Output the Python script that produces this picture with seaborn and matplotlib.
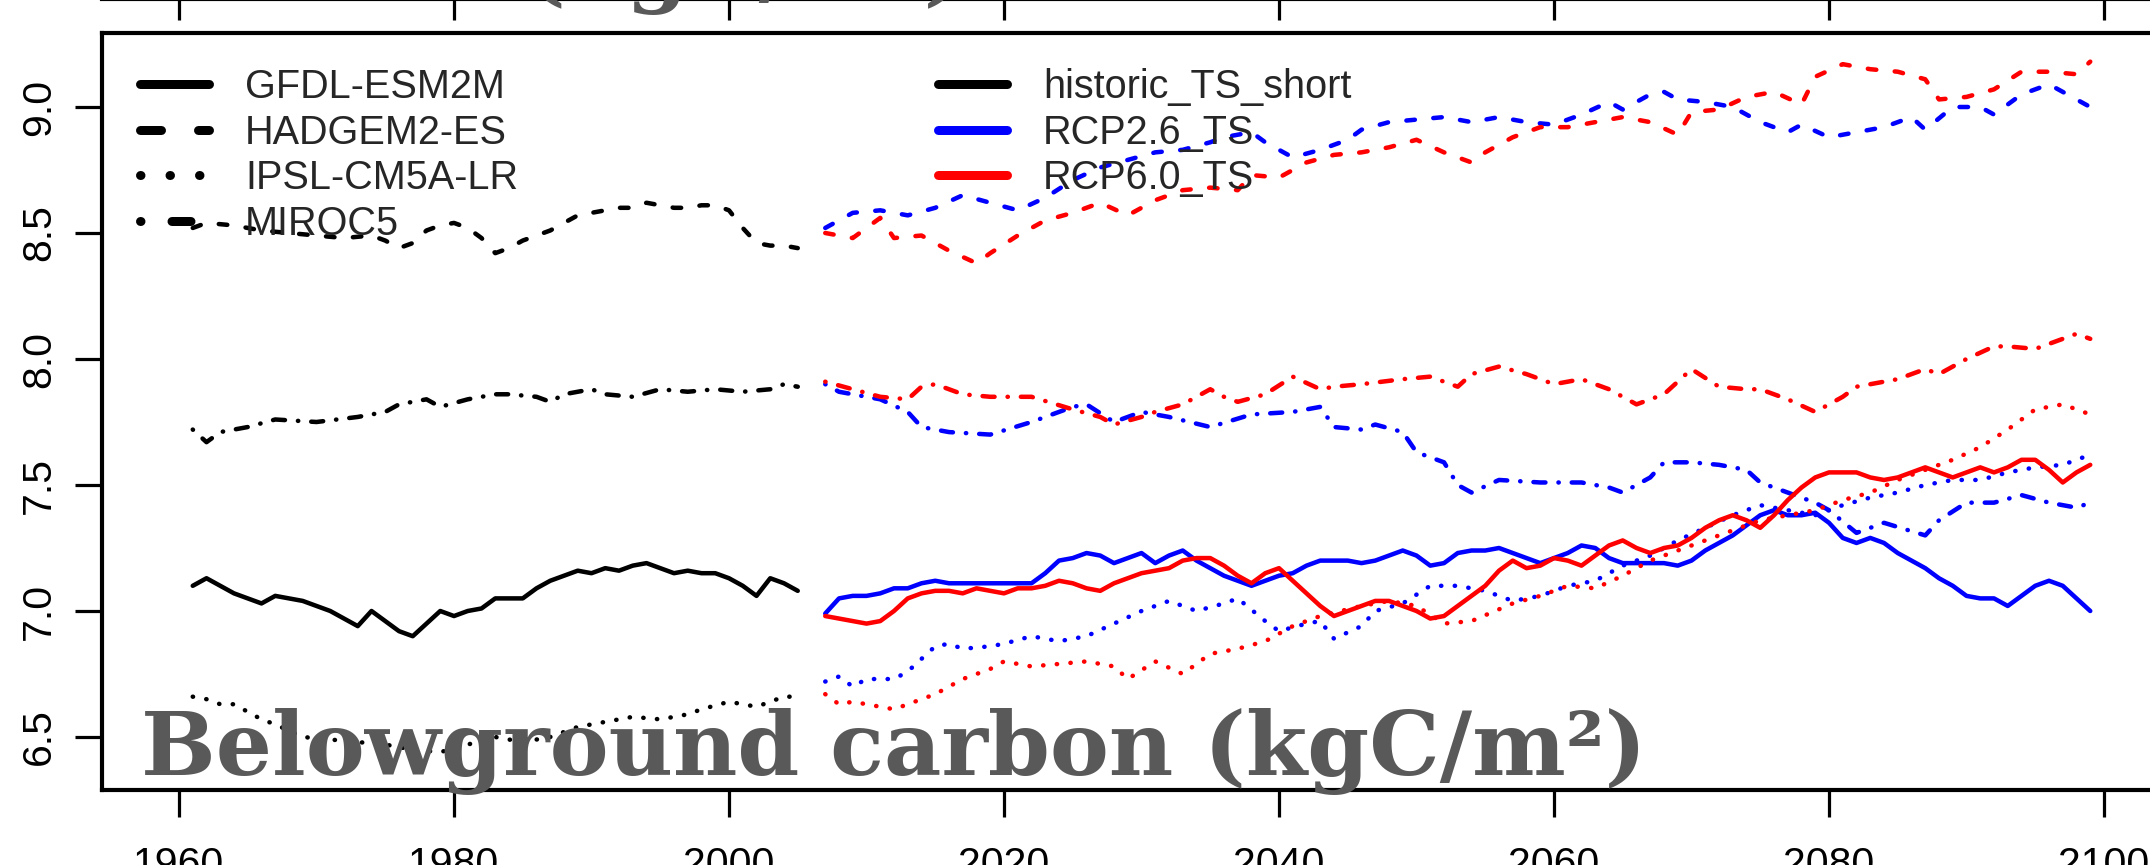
import numpy as np
import pandas as pd
import matplotlib
matplotlib.use("Agg")
import matplotlib.pyplot as plt
import seaborn as sns
from matplotlib.lines import Line2D

# ---------------- data ----------------
# GFDL-ESM2M (solid)
gfdl_hist_yr = list(range(1961, 2006))
gfdl_hist = [7.10, 7.13, 7.10, 7.07, 7.05, 7.03, 7.06, 7.05, 7.04, 7.02,
             7.00, 6.97, 6.94, 7.00, 6.96, 6.92, 6.90, 6.95, 7.00, 6.98,
             7.00, 7.01, 7.05, 7.05, 7.05, 7.09, 7.12, 7.14, 7.16, 7.15,
             7.17, 7.16, 7.18, 7.19, 7.17, 7.15, 7.16, 7.15, 7.15, 7.13,
             7.10, 7.06, 7.13, 7.11, 7.08]
gfdl_fut_yr = list(range(2007, 2100))
gfdl_rcp26 = [6.99, 7.05, 7.06, 7.06, 7.07, 7.09, 7.09, 7.11, 7.12, 7.11,
              7.11, 7.11, 7.11, 7.11, 7.11, 7.11, 7.15, 7.20, 7.21, 7.23,
              7.22, 7.19, 7.21, 7.23, 7.19, 7.22, 7.24, 7.20, 7.17, 7.14,
              7.12, 7.10, 7.12, 7.14, 7.15, 7.18, 7.20, 7.20, 7.20, 7.19,
              7.20, 7.22, 7.24, 7.22, 7.18, 7.19, 7.23, 7.24, 7.24, 7.25,
              7.23, 7.21, 7.19, 7.21, 7.23, 7.26, 7.25, 7.21, 7.19, 7.19,
              7.19, 7.19, 7.18, 7.20, 7.24, 7.27, 7.30, 7.34, 7.38, 7.40,
              7.38, 7.38, 7.39, 7.35, 7.29, 7.27, 7.29, 7.27, 7.23, 7.20,
              7.17, 7.13, 7.10, 7.06, 7.05, 7.05, 7.02, 7.06, 7.10, 7.12,
              7.10, 7.05, 7.00]
gfdl_rcp60 = [6.98, 6.97, 6.96, 6.95, 6.96, 7.00, 7.05, 7.07, 7.08, 7.08,
              7.07, 7.09, 7.08, 7.07, 7.09, 7.09, 7.10, 7.12, 7.11, 7.09,
              7.08, 7.11, 7.13, 7.15, 7.16, 7.17, 7.20, 7.21, 7.21, 7.18,
              7.14, 7.11, 7.15, 7.17, 7.12, 7.07, 7.02, 6.98, 7.00, 7.02,
              7.04, 7.04, 7.02, 7.00, 6.97, 6.98, 7.02, 7.06, 7.10, 7.16,
              7.20, 7.17, 7.18, 7.21, 7.20, 7.18, 7.22, 7.26, 7.28, 7.25,
              7.23, 7.25, 7.26, 7.29, 7.33, 7.36, 7.38, 7.36, 7.33, 7.38,
              7.44, 7.49, 7.53, 7.55, 7.55, 7.55, 7.53, 7.52, 7.53, 7.55,
              7.57, 7.55, 7.53, 7.55, 7.57, 7.55, 7.57, 7.60, 7.60, 7.56,
              7.51, 7.55, 7.58]

# HADGEM2-ES (dashed)
hadgem_hist_yr = [1961, 1962, 1964, 1966, 1968, 1970, 1972, 1974, 1975, 1976,
                  1977, 1978, 1979, 1980, 1981, 1982, 1983, 1984, 1985, 1986,
                  1987, 1988, 1989, 1990, 1991, 1992, 1993, 1994, 1995, 1996,
                  1997, 1998, 1999, 2000, 2001, 2002, 2003, 2004, 2005]
hadgem_hist = [8.52, 8.54, 8.53, 8.51, 8.50, 8.49, 8.48, 8.49, 8.47, 8.44,
               8.46, 8.51, 8.53, 8.54, 8.52, 8.48, 8.42, 8.44, 8.47, 8.49,
               8.51, 8.54, 8.57, 8.58, 8.59, 8.60, 8.60, 8.62, 8.61, 8.60,
               8.60, 8.61, 8.61, 8.59, 8.52, 8.46, 8.45, 8.45, 8.44]
hadgem_rcp26_yr = [2007, 2009, 2011, 2013, 2015, 2017, 2019, 2021, 2023, 2025,
                   2027, 2029, 2031, 2033, 2035, 2036, 2038, 2039, 2041, 2043,
                   2045, 2046, 2048, 2050, 2052, 2054, 2056, 2058, 2060, 2062,
                   2064, 2065, 2067, 2068, 2069, 2071, 2073, 2075, 2077, 2078,
                   2080, 2082, 2084, 2086, 2087, 2089, 2091, 2092, 2094, 2096,
                   2098, 2099]
hadgem_rcp26 = [8.52, 8.58, 8.59, 8.57, 8.60, 8.65, 8.62, 8.59, 8.64, 8.71,
                8.76, 8.79, 8.82, 8.83, 8.86, 8.88, 8.90, 8.86, 8.80, 8.83,
                8.87, 8.91, 8.94, 8.95, 8.96, 8.94, 8.96, 8.94, 8.93, 8.97,
                9.02, 8.99, 9.05, 9.06, 9.03, 9.02, 9.00, 8.94, 8.90, 8.93,
                8.88, 8.90, 8.92, 8.96, 8.91, 9.00, 9.00, 8.97, 9.05, 9.09,
                9.03, 9.00]
hadgem_rcp60_yr = [2007, 2009, 2011, 2012, 2014, 2016, 2018, 2019, 2021, 2023,
                   2025, 2027, 2029, 2031, 2033, 2035, 2037, 2038, 2040, 2042,
                   2044, 2046, 2048, 2050, 2052, 2054, 2055, 2057, 2059, 2061,
                   2063, 2065, 2067, 2069, 2070, 2072, 2074, 2076, 2078, 2079,
                   2081, 2083, 2085, 2087, 2088, 2090, 2092, 2094, 2096, 2098,
                   2099]
hadgem_rcp60 = [8.50, 8.48, 8.56, 8.48, 8.49, 8.43, 8.38, 8.42, 8.49, 8.55,
                8.58, 8.62, 8.57, 8.63, 8.67, 8.68, 8.67, 8.73, 8.72, 8.78,
                8.81, 8.82, 8.84, 8.87, 8.82, 8.78, 8.82, 8.88, 8.92, 8.92,
                8.94, 8.96, 8.94, 8.89, 8.98, 8.99, 9.04, 9.06, 9.01, 9.12,
                9.17, 9.15, 9.14, 9.11, 9.03, 9.04, 9.07, 9.14, 9.14, 9.13,
                9.18]

# IPSL-CM5A-LR (dotted)
ipsl_hist_yr = [1961, 1962, 1963, 1964, 1965, 1966, 1967, 1969, 1971, 1973,
                1975, 1977, 1979, 1981, 1983, 1985, 1987, 1989, 1991, 1993,
                1995, 1997, 1998, 2000, 2002, 2004, 2005]
ipsl_hist = [6.66, 6.65, 6.63, 6.63, 6.60, 6.57, 6.55, 6.50, 6.49, 6.48,
             6.47, 6.45, 6.44, 6.47, 6.50, 6.48, 6.50, 6.54, 6.56, 6.58,
             6.57, 6.59, 6.61, 6.64, 6.62, 6.66, 6.66]
ipsl_rcp26_yr = [2007, 2008, 2009, 2010, 2012, 2013, 2014, 2015, 2016, 2017,
                 2019, 2020, 2022, 2024, 2026, 2028, 2030, 2032, 2034, 2036,
                 2037, 2039, 2040, 2042, 2043, 2044, 2046, 2047, 2049, 2051,
                 2053, 2055, 2057, 2059, 2061, 2063, 2065, 2067, 2069, 2071,
                 2073, 2075, 2077, 2079, 2081, 2083, 2085, 2087, 2089, 2091,
                 2093, 2095, 2097, 2099]
ipsl_rcp26 = [6.72, 6.74, 6.70, 6.73, 6.73, 6.76, 6.81, 6.86, 6.87, 6.85,
              6.86, 6.87, 6.90, 6.88, 6.90, 6.95, 7.00, 7.04, 7.00, 7.03,
              7.05, 6.96, 6.92, 6.95, 6.96, 6.89, 6.94, 7.00, 7.03, 7.10,
              7.10, 7.08, 7.04, 7.06, 7.10, 7.12, 7.18, 7.22, 7.28, 7.33,
              7.38, 7.42, 7.40, 7.38, 7.42, 7.45, 7.47, 7.50, 7.52, 7.52,
              7.55, 7.57, 7.58, 7.62]
ipsl_rcp60_yr = [2007, 2008, 2009, 2010, 2012, 2013, 2015, 2016, 2017, 2019,
                 2020, 2022, 2024, 2026, 2028, 2029, 2031, 2033, 2035, 2037,
                 2039, 2041, 2043, 2046, 2048, 2050, 2052, 2054, 2057, 2059,
                 2061, 2063, 2065, 2067, 2069, 2071, 2073, 2075, 2077, 2079,
                 2081, 2083, 2085, 2087, 2089, 2091, 2093, 2095, 2097, 2099]
ipsl_rcp60 = [6.67, 6.63, 6.64, 6.63, 6.61, 6.63, 6.67, 6.70, 6.73, 6.77,
              6.80, 6.78, 6.79, 6.80, 6.78, 6.73, 6.80, 6.75, 6.83, 6.85,
              6.88, 6.94, 6.98, 7.02, 7.04, 7.02, 6.95, 6.96, 7.03, 7.06,
              7.10, 7.09, 7.14, 7.20, 7.24, 7.28, 7.32, 7.36, 7.38, 7.40,
              7.44, 7.47, 7.52, 7.56, 7.60, 7.65, 7.72, 7.80, 7.82, 7.78]

# MIROC5 (dot-dash)
miroc_hist_yr = [1961, 1962, 1963, 1965, 1967, 1970, 1973, 1975, 1976, 1978,
                 1979, 1981, 1983, 1984, 1986, 1987, 1988, 1990, 1991, 1993,
                 1995, 1997, 1999, 2001, 2003, 2004, 2005]
miroc_hist = [7.72, 7.67, 7.71, 7.73, 7.76, 7.75, 7.77, 7.79, 7.82, 7.84,
              7.81, 7.84, 7.86, 7.86, 7.85, 7.83, 7.86, 7.88, 7.86, 7.85,
              7.88, 7.87, 7.88, 7.87, 7.88, 7.90, 7.89]
miroc_rcp26_yr = [2007, 2008, 2011, 2013, 2014, 2016, 2019, 2022, 2025, 2026,
                  2028, 2030, 2032, 2035, 2038, 2041, 2043, 2044, 2046, 2047,
                  2049, 2050, 2052, 2053, 2054, 2056, 2059, 2062, 2064, 2065,
                  2067, 2068, 2070, 2072, 2074, 2075, 2077, 2079, 2080, 2082,
                  2084, 2087, 2088, 2090, 2092, 2094, 2096, 2098, 2099]
miroc_rcp26 = [7.90, 7.87, 7.84, 7.79, 7.73, 7.71, 7.70, 7.75, 7.81, 7.82,
               7.75, 7.79, 7.77, 7.73, 7.78, 7.79, 7.81, 7.73, 7.72, 7.74,
               7.71, 7.63, 7.59, 7.50, 7.47, 7.52, 7.51, 7.51, 7.49, 7.47,
               7.53, 7.59, 7.59, 7.58, 7.56, 7.51, 7.47, 7.43, 7.40, 7.31,
               7.35, 7.30, 7.36, 7.43, 7.43, 7.46, 7.43, 7.41, 7.43]
miroc_rcp60_yr = [2007, 2009, 2011, 2013, 2014, 2015, 2017, 2019, 2022, 2025,
                  2027, 2028, 2030, 2031, 2033, 2035, 2036, 2037, 2039, 2041,
                  2043, 2044, 2046, 2049, 2051, 2053, 2054, 2056, 2058, 2060,
                  2062, 2064, 2066, 2068, 2070, 2072, 2074, 2075, 2077, 2079,
                  2081, 2082, 2085, 2087, 2088, 2090, 2092, 2093, 2095, 2097,
                  2098, 2099]
miroc_rcp60 = [7.91, 7.88, 7.85, 7.84, 7.89, 7.90, 7.86, 7.85, 7.85, 7.80,
               7.77, 7.74, 7.77, 7.79, 7.82, 7.88, 7.85, 7.83, 7.86, 7.93,
               7.88, 7.89, 7.90, 7.92, 7.93, 7.89, 7.94, 7.97, 7.94, 7.90,
               7.92, 7.88, 7.82, 7.86, 7.96, 7.89, 7.88, 7.88, 7.84, 7.79,
               7.85, 7.89, 7.92, 7.96, 7.94, 8.00, 8.05, 8.05, 8.04, 8.08,
               8.10, 8.08]

model_labels = ["GFDL-ESM2M", "HADGEM2-ES", "IPSL-CM5A-LR", "MIROC5"]
scenario_labels = ["historic_TS_short", "RCP2.6_TS", "RCP6.0_TS"]
scenario_colors = ["black", "#0000FF", "#FF0000"]
x_ticks = [1960, 1980, 2000, 2020, 2040, 2060, 2080, 2100]
y_ticks = [6.5, 7.0, 7.5, 8.0, 8.5, 9.0]
title_text = "Belowground carbon (kgC/m²)"
top_title_text = "(kgC/m²)"

# ---------------- styling ----------------
sns.set_theme(style="white")
plt.rcParams["font.family"] = ["Liberation Sans", "DejaVu Sans"]
plt.rcParams["lines.scale_dashes"] = False

W, H = 2150, 865
PX = 0.72  # points per pixel at dpi 100


def fx(px):
    return px / W


def fy(py):
    return 1 - py / H


def yr_at(px):
    return 1960 + (px - 179) / 13.75


def val_at(py):
    return 9.0 - (py - 107) / 252.0


LW = 4.5 * PX
styles_data = {
    "solid": "-",
    "dashed": (0, (8.5 * PX, 18.5 * PX)),
    "dotted": (0, (0.3 * PX, 13.4 * PX)),
    "dotdash": (0, (0.3 * PX, 13 * PX, 12 * PX, 13 * PX)),
}
LWL = 9 * PX
styles_leg = {
    "solid": "-",
    "dashed": (0, (21 * PX, 37 * PX)),
    "dotted": (0, (0.5 * PX, 29 * PX)),
    "dotdash": (0, (0.5 * PX, 31 * PX, 19 * PX, 31 * PX)),
}
TICK_FS = 29.5
LEG_FS = 28.5
LEG_PX = LEG_FS / PX

fig = plt.figure(figsize=(W / 100, H / 100), dpi=100)
fig.patch.set_facecolor("white")

ax_l, ax_r, ax_t, ax_b = 102, 2200, 33, 790
ax = fig.add_axes([fx(ax_l), fy(ax_b), (ax_r - ax_l) / W, (ax_b - ax_t) / H])
ax.set_facecolor("white")


def draw(years, vals, color, style):
    sns.lineplot(x=np.asarray(years, float), y=np.asarray(vals, float), ax=ax,
                 color=color, linewidth=LW, linestyle=styles_data[style],
                 estimator=None, errorbar=None, sort=False, legend=False,
                 dash_capstyle="round", solid_capstyle="round",
                 solid_joinstyle="round", dash_joinstyle="round")


series = [
    ("solid", gfdl_hist_yr, gfdl_hist, gfdl_fut_yr, gfdl_rcp26, gfdl_fut_yr, gfdl_rcp60),
    ("dashed", hadgem_hist_yr, hadgem_hist, hadgem_rcp26_yr, hadgem_rcp26, hadgem_rcp60_yr, hadgem_rcp60),
    ("dotted", ipsl_hist_yr, ipsl_hist, ipsl_rcp26_yr, ipsl_rcp26, ipsl_rcp60_yr, ipsl_rcp60),
    ("dotdash", miroc_hist_yr, miroc_hist, miroc_rcp26_yr, miroc_rcp26, miroc_rcp60_yr, miroc_rcp60),
]
for st, hy, hv, by, bv, ry, rv in series:
    draw(hy, hv, scenario_colors[0], st)
for st, hy, hv, by, bv, ry, rv in series:
    draw(by, bv, scenario_colors[1], st)
for st, hy, hv, by, bv, ry, rv in series:
    draw(ry, rv, scenario_colors[2], st)

ax.set_xlim(yr_at(ax_l), yr_at(ax_r))
ax.set_ylim(val_at(ax_b), val_at(ax_t))
ax.set_xticks(x_ticks)
ax.set_yticks(y_ticks)
ax.set_xlabel("")
ax.set_ylabel("")
for s in ["left", "bottom", "top"]:
    ax.spines[s].set_visible(True)
    ax.spines[s].set_color("black")
    ax.spines[s].set_linewidth(3.0)
ax.spines["right"].set_visible(False)
ax.tick_params(axis="both", which="major", direction="out", length=27 * PX,
               width=3.2 * PX, color="black", labelsize=TICK_FS, labelcolor="black",
               bottom=True, left=True, top=False, right=False)
ax.tick_params(axis="x", pad=21)
ax.tick_params(axis="y", pad=12, labelrotation=90)
for lab in ax.get_yticklabels():
    lab.set_verticalalignment("center")

# legends
h1 = [Line2D([], [], color="black", lw=LWL, linestyle=styles_leg[k],
             dash_capstyle="round", solid_capstyle="round")
      for k in ["solid", "dashed", "dotted", "dotdash"]]
leg_kw = dict(loc="upper left", bbox_transform=fig.transFigure, frameon=False,
              borderpad=0, borderaxespad=0, handlelength=69 / LEG_PX,
              handletextpad=36.5 / LEG_PX, labelspacing=0.19, fontsize=LEG_FS)
leg1 = ax.legend(h1, model_labels, bbox_to_anchor=(fx(139.5), fy(68)), **leg_kw)
ax.add_artist(leg1)
h2 = [Line2D([], [], color=c, lw=LWL, linestyle="-", solid_capstyle="round")
      for c in scenario_colors]
leg2 = ax.legend(h2, scenario_labels, bbox_to_anchor=(fx(937.5), fy(68)), **leg_kw)

# partial axis of the panel above
ax2 = fig.add_axes([fx(ax_l), fy(-1), (ax_r - ax_l) / W, 0.2])
ax2.patch.set_visible(False)
ax2.set_xlim(ax.get_xlim())
ax2.set_xticks(x_ticks)
ax2.set_yticks([])
for s in ["left", "right", "top"]:
    ax2.spines[s].set_visible(False)
ax2.spines["bottom"].set_color("black")
ax2.spines["bottom"].set_linewidth(3.0)
ax2.tick_params(axis="x", direction="out", length=21 * PX, width=3.2 * PX,
                color="black", labelbottom=False, bottom=True)

# big overlay titles
title = fig.text(fx(141), fy(775), title_text, fontsize=62, fontweight="bold",
                 family="DejaVu Serif", color="#595959", ha="left", va="baseline",
                 zorder=20)
fig.canvas.draw()
bb = title.get_window_extent()
fs = 62 * 1505.0 / bb.width
title.set_fontsize(fs)
fig.text(fx(524), fy(-5), top_title_text, fontsize=fs, fontweight="bold",
         family="DejaVu Serif", color="#595959", ha="left", va="baseline",
         zorder=20)

fig.savefig("out.png", dpi=100, facecolor="white")
